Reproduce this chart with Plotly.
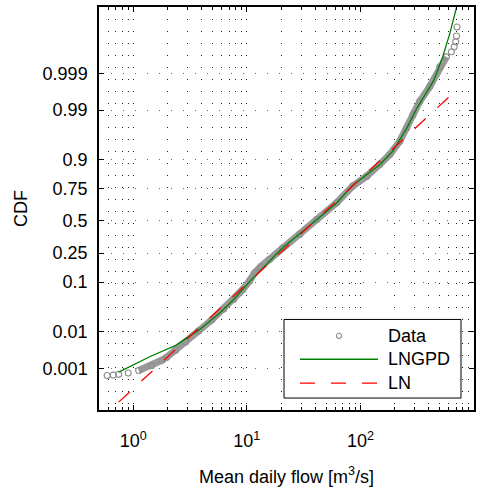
import math
from statistics import NormalDist
import plotly.graph_objects as go

nd = NormalDist()

# ---- Data ----
data_flow = [0.590, 0.667, 0.745, 0.904, 1.118, 1.455, 1.782, 1.972, 2.366, 2.898,
             3.772, 4.91, 6.26, 7.67, 9.20, 10.6, 11.74, 13.26, 15.91, 20.70,
             29.22, 41.24, 61.86, 85.5, 113.6, 147.9, 181.1, 221.8, 255.6, 290.4,
             332.7, 407.4, 499.0, 571.5, 632.5, 669.4, 690.1, 701.5, 708.7]
data_cdf = [0.00059, 0.00061, 0.000645, 0.000708, 0.00085, 0.00119, 0.00173, 0.00212, 0.00332, 0.00553,
            0.01053, 0.0189, 0.0323, 0.0496, 0.0749, 0.1052, 0.1388, 0.1685, 0.2108, 0.2865,
            0.389, 0.5125, 0.6488, 0.7675, 0.8263, 0.8817, 0.9181, 0.9525, 0.97428, 0.98705,
            0.99388, 0.99759, 0.99939, 0.999712, 0.999806, 0.99987, 0.999914, 0.999948, 0.9999765]

lngpd_flow = [0.745, 1.397, 2.366, 3.85, 5.77, 7.52, 10.6, 20.7, 33.7, 61.8,
              85.5, 147.9, 192.4, 255.6, 313.0, 383.4, 441.8, 530.3, 611.0, 704.0]
lngpd_cdf = [0.00076, 0.00219, 0.00453, 0.01143, 0.0267, 0.0475, 0.1015, 0.2865, 0.442, 0.6464,
             0.7739, 0.881, 0.928, 0.9739, 0.99084, 0.99668, 0.99838, 0.999714, 0.9999566, 0.99999645]

ln_flow = [0.745, 649.0]
ln_cdf = [7.2e-5, 0.99623]

series_names = ["Data", "LNGPD", "LN"]
ytick_probs = [0.001, 0.01, 0.1, 0.25, 0.5, 0.75, 0.9, 0.99, 0.999]
ytick_text = ["0.001", "0.01", "0.1", "0.25", "0.5", "0.75", "0.9", "0.99", "0.999"]
xtick_vals = [1, 10, 100, 1000]
xtick_text = ["10<sup>0</sup>", "10<sup>1</sup>", "10<sup>2</sup>", "10<sup>3</sup>"]


def q(ps):
    return [nd.inv_cdf(p) for p in ps]


FONT = "Liberation Sans, Arial, Helvetica, sans-serif"
GREY = "#999999"
MARK = "#8f8f8f"
GREEN = "#008000"
RED = "#ff0000"
DASH = "15px,16px"

fig = go.Figure()

# dense band of overlapping data circles
fig.add_trace(go.Scatter(x=data_flow[4:-5], y=q(data_cdf[4:-5]), mode="lines",
                         line=dict(color=GREY, width=7), showlegend=False,
                         hoverinfo="skip"))
fig.add_trace(go.Scatter(x=data_flow, y=q(data_cdf), mode="markers", name=series_names[0],
                         showlegend=False,
                         marker=dict(symbol="circle-open", size=6, color=MARK,
                                     line=dict(width=1.1, color=MARK))))
fig.add_trace(go.Scatter(x=lngpd_flow, y=q(lngpd_cdf), mode="lines", name=series_names[1],
                         showlegend=False, line=dict(color=GREEN, width=1.3)))
fig.add_trace(go.Scatter(x=ln_flow, y=q(ln_cdf), mode="lines", name=series_names[2],
                         showlegend=False, line=dict(color=RED, width=1.3, dash=DASH)))

minor_x = [m * 10 ** e for e in range(-1, 3) for m in range(2, 10) if 0.5 <= m * 10 ** e <= 1000]

# ---- legend box drawn in paper coordinates ----
L, T, W, H = 99, 5, 375, 405   # plot area in pixels


def px(xp):
    return (xp - L) / W


def py(yp):
    return (T + H - yp) / H


shapes = [
    dict(type="rect", xref="paper", yref="paper", x0=px(284), x1=px(461), y0=py(398), y1=py(319),
         fillcolor="white", line=dict(color="black", width=1), layer="above"),
    dict(type="circle", xref="paper", yref="paper", xsizemode="pixel", ysizemode="pixel",
         xanchor=px(339), yanchor=py(335.5), x0=-2.6, x1=2.6, y0=-2.6, y1=2.6,
         line=dict(color=MARK, width=1.1), fillcolor="rgba(0,0,0,0)", layer="above"),
    dict(type="line", xref="paper", yref="paper", x0=px(300), x1=px(378), y0=py(359), y1=py(359),
         line=dict(color=GREEN, width=1.3), layer="above"),
    dict(type="line", xref="paper", yref="paper", x0=px(300), x1=px(378), y0=py(383), y1=py(383),
         line=dict(color=RED, width=1.3, dash=DASH), layer="above"),
]
annotations = [
    dict(xref="paper", yref="paper", x=px(386), y=py(yy), text=t, showarrow=False,
         xanchor="left", yanchor="middle", font=dict(family=FONT, size=18, color="black"))
    for t, yy in zip(series_names, [336, 359, 383])
]

fig.update_layout(
    width=486, height=489,
    margin=dict(l=99, r=12, t=5, b=79),
    paper_bgcolor="white", plot_bgcolor="white",
    font=dict(family=FONT, size=18, color="black"),
    showlegend=False,
    shapes=shapes, annotations=annotations,
    xaxis=dict(
        type="log", range=[math.log10(0.5), 3],
        tickmode="array", tickvals=xtick_vals, ticktext=xtick_text,
        ticks="inside", ticklen=5, tickcolor="black", tickwidth=1,
        showline=True, linecolor="black", linewidth=1.5, mirror="ticks",
        showgrid=True, gridcolor="#222222", gridwidth=1, griddash="1px,11px",
        zeroline=False, ticklabelstandoff=14,
        minor=dict(tickvals=minor_x, ticks="inside", ticklen=3, tickcolor="black",
                   showgrid=True, gridcolor="#222222", gridwidth=1, griddash="1px,11px"),
        tickfont=dict(family=FONT, size=18, color="black"),
        title=dict(text="Mean daily flow [m<sup>3</sup>/s]", standoff=20,
                   font=dict(family=FONT, size=18, color="black")),
    ),
    yaxis=dict(
        range=[-3.9666, 4.4885],
        tickmode="array", tickvals=q(ytick_probs), ticktext=ytick_text,
        ticks="inside", ticklen=5, tickcolor="black", tickwidth=1,
        showline=True, linecolor="black", linewidth=1.5, mirror="ticks",
        showgrid=True, gridcolor="#666666", gridwidth=1, griddash="1px,11px",
        zeroline=False, ticklabelstandoff=6,
        tickfont=dict(family=FONT, size=18, color="black"),
        title=dict(text="CDF", standoff=10,
                   font=dict(family=FONT, size=18, color="black")),
    ),
)

fig.write_html("out.html")
